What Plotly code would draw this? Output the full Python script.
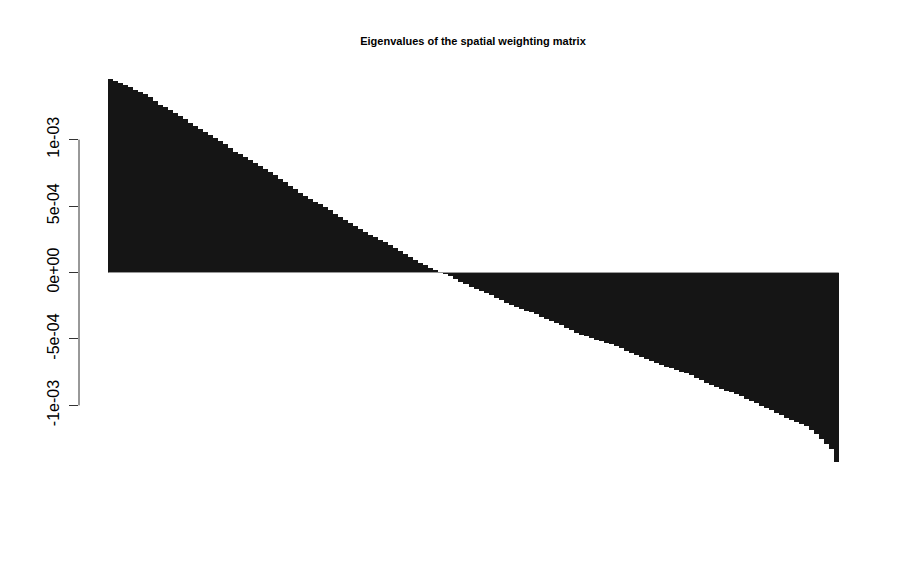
import plotly.graph_objects as go

# Eigenvalues (sorted, decreasing), in units of 1e-5
eig_e5 = [
    145.8, 143.9, 142.5, 141.0, 139.4, 137.7, 136.1, 134.5, 132.0, 129.1,
    126.4, 124.3, 122.2, 120.1, 117.7, 115.3, 112.9, 110.5, 108.1, 105.8,
    103.5, 101.3, 99.0, 96.4, 93.5, 90.7, 88.9, 87.0, 84.9, 82.6,
    80.2, 77.9, 75.5, 73.2, 70.6, 67.8, 65.2, 62.7, 60.0, 57.4,
    55.3, 53.3, 51.3, 49.0, 46.7, 44.4, 42.1, 39.8, 37.6, 35.3,
    33.1, 30.8, 28.6, 26.7, 24.8, 23.0, 20.7, 18.4, 16.2, 13.9,
    11.7, 9.4, 7.2, 5.3, 3.5, 1.6, 0.2, -0.8, -2.8, -4.9,
    -6.9, -9.0, -10.7, -12.3, -13.9, -15.5, -17.2, -19.1, -20.9, -22.8,
    -24.3, -25.8, -27.2, -28.6, -30.0, -31.5, -33.1, -34.6, -36.2, -38.0,
    -39.8, -41.7, -43.6, -45.3, -46.7, -48.0, -49.3, -50.5, -51.7, -52.9,
    -54.0, -55.3, -57.0, -58.7, -60.3, -62.0, -63.6, -65.2, -66.7, -68.3,
    -69.9, -71.0, -72.2, -73.3, -74.5, -75.7, -77.4, -79.3, -81.2, -83.1,
    -84.6, -86.0, -87.4, -88.9, -90.2, -91.7, -93.3, -94.9, -96.5, -98.2,
    -100.1, -102.0, -103.8, -105.6, -107.5, -109.4, -111.3, -112.8, -114.3, -115.8,
    -118.6, -121.8, -125.1, -128.9, -132.8, -142.5,
]
eigenvalues = [v * 1e-5 for v in eig_e5]
index = list(range(1, len(eigenvalues) + 1))

tick_vals = [-1e-3, -5e-4, 0.0, 5e-4, 1e-3]
tick_text = ["-1e-03", "-5e-04", "0e+00", "5e-04", "1e-03"]
title_text = "Eigenvalues of the spatial weighting matrix"

n = len(eigenvalues)
pad = 0.04 * n
y_lo, y_hi = -1.438e-3, 1.461e-3
ypad = 0.04 * (y_hi - y_lo)

fig = go.Figure()
fig.add_trace(go.Bar(
    x=index, y=eigenvalues, width=1.0,
    marker=dict(color="#151515", line=dict(width=0)),
    hoverinfo="y",
))

# zero baseline under the bars
fig.add_shape(type="line", xref="x", yref="y", x0=0.5, x1=n + 0.5, y0=0, y1=0,
              line=dict(color="#9a9a9a", width=1), layer="above")
# R-style axis line limited to the tick range
fig.add_shape(type="line", xref="paper", yref="y", x0=0, x1=0,
              y0=tick_vals[0], y1=tick_vals[-1],
              line=dict(color="#333333", width=1))

W, H = 901, 554
fig.update_layout(
    width=W, height=H,
    margin=dict(l=70.5, r=41, t=55, b=83, autoexpand=False),
    paper_bgcolor="white", plot_bgcolor="white",
    bargap=0,
    showlegend=False,
    title=dict(text="<b>" + title_text + "</b>", x=465 / W, xanchor="center",
               y=1 - 33 / H, yanchor="middle",
               font=dict(family="Liberation Sans, Arial, sans-serif", size=11, color="black")),
    font=dict(family="Liberation Sans, Arial, sans-serif", color="black"),
)
fig.update_xaxes(range=[0.5 - pad, n + 0.5 + pad], showgrid=False, zeroline=False,
                 showticklabels=False, ticks="", showline=False)
fig.update_yaxes(range=[y_lo - ypad, y_hi + ypad], showgrid=False, zeroline=False,
                 showline=False, tickvals=tick_vals, ticktext=tick_text,
                 ticks="outside", ticklen=9, tickwidth=1, tickcolor="#333333",
                 ticklabelstandoff=4,
                 tickangle=-90, tickfont=dict(size=16, color="black"))

fig.write_html("out.html")
